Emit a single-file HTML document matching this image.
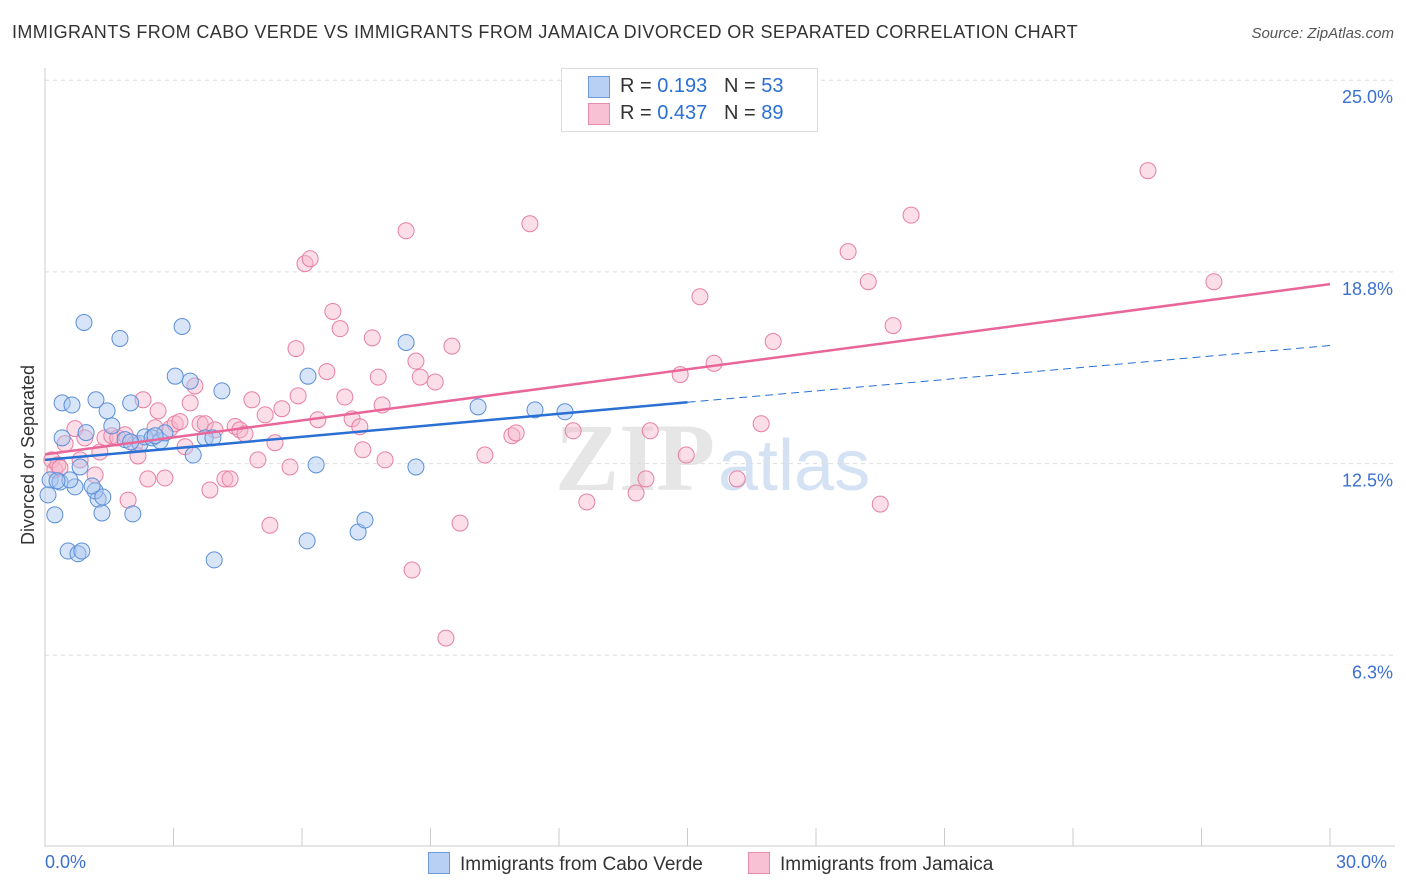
<!DOCTYPE html>
<html><head><meta charset="utf-8"><style>
body{margin:0;background:#fff;font-family:"Liberation Sans",sans-serif}
#c{position:relative;width:1406px;height:892px;overflow:hidden}
.t{position:absolute;white-space:nowrap}
</style></head><body>
<div id="c">
<div class="t" style="left:12px;top:22px;font-size:18px;letter-spacing:0.4px;color:#333">IMMIGRANTS FROM CABO VERDE VS IMMIGRANTS FROM JAMAICA DIVORCED OR SEPARATED CORRELATION CHART</div>
<div class="t" style="right:12px;top:25px;font-size:15px;color:#555;font-style:italic">Source: ZipAtlas.com</div>
<svg id="s" width="1406" height="892" style="position:absolute;left:0;top:0"></svg>
</div>
<script>
const yTicks=[25.0,18.8,12.5,6.3];
const yTickLabels=["25.0%","18.8%","12.5%","6.3%"];
const blueX=[0.12,0.07,0.23,0.4,0.54,0.63,0.7,0.77,0.86,0.91,0.35,0.4,0.58,0.82,0.96,1.19,1.24,1.17,1.1,1.33,1.35,1.45,1.56,1.75,1.87,2.0,2.05,2.22,2.33,2.5,2.69,2.8,3.04,3.2,3.39,3.46,3.74,3.92,3.95,4.13,6.14,6.12,6.33,7.31,7.47,8.43,8.66,10.11,11.44,12.14,0.28,2.0,2.57];
const blueY=[11.97,11.48,10.83,14.48,9.65,14.41,11.74,9.56,9.65,17.1,11.9,13.34,11.97,12.39,13.51,14.58,11.34,11.61,11.77,10.89,11.41,14.22,13.73,16.58,13.28,14.48,10.86,13.15,13.37,13.34,13.24,13.5,15.35,16.97,15.19,12.78,13.34,13.34,9.36,14.87,15.35,9.98,12.46,10.27,10.66,16.45,12.39,14.35,14.25,14.19,11.94,13.21,13.41];
const pinkX=[0.16,0.23,0.3,0.35,0.47,0.7,0.82,0.93,1.17,1.28,1.4,1.56,1.7,1.87,1.94,2.1,2.17,2.29,2.4,2.57,2.64,2.8,2.92,3.04,3.15,3.27,3.39,3.5,3.62,3.74,3.85,3.97,4.2,4.32,4.44,4.55,4.67,4.83,4.97,5.14,5.25,5.37,5.53,5.72,5.86,5.91,6.07,6.19,6.37,6.58,6.72,6.89,7.0,7.17,7.35,7.42,7.64,7.78,7.87,7.94,8.43,8.57,8.66,8.76,9.11,9.36,9.5,9.69,10.27,10.9,11.0,11.32,12.33,12.65,13.8,14.03,14.13,14.83,14.97,15.29,15.62,16.16,16.72,17.0,18.75,19.22,19.5,19.8,20.22,25.75,27.29];
const pinkY=[12.62,12.29,12.46,12.36,13.15,13.64,12.62,13.34,12.13,12.88,13.34,13.41,13.34,13.44,11.31,13.15,12.75,14.58,12.0,13.67,14.22,12.03,13.64,13.8,13.87,13.05,14.48,15.03,13.8,13.8,11.64,13.6,12.0,12.0,13.71,13.6,13.47,14.58,12.62,14.09,10.49,13.18,14.29,12.39,16.25,14.71,19.02,19.18,13.93,15.5,17.46,16.9,14.67,13.96,13.7,12.95,16.6,15.32,14.41,12.62,20.09,9.03,15.84,15.32,15.16,6.81,16.33,10.56,12.78,13.41,13.5,20.32,13.57,11.25,11.54,12.0,13.57,15.4,12.78,17.94,15.77,12.0,13.8,16.48,19.41,18.43,11.18,17.0,20.6,22.05,18.43];
const S="http://www.w3.org/2000/svg";
const svg=document.getElementById('s');
const X0=45,X1=1330,Y0=847,YS=191.7/6.25;
const xs=v=>X0+(X1-X0)*v/30, ys=v=>Y0-v*YS;
function el(t,a,p){const e=document.createElementNS(S,t);for(const k in a)e.setAttribute(k,a[k]);(p||svg).appendChild(e);return e;}
let w=el('text',{x:555,y:490,'font-size':96,fill:'#e6e6e6','font-family':'Liberation Serif','font-weight':'bold'});w.textContent='ZIP';

let w2=el('text',{x:718,y:490,'font-size':72,fill:'#d4e2f4','font-family':'Liberation Sans'});w2.textContent='atlas';

yTicks.forEach((v,i)=>{const y=ys(v===6.3?6.25:v===18.8?18.75:v);
 const g=el('line',{x1:X0,x2:1395,y1:y,y2:y,stroke:'#ddd','stroke-dasharray':'4,4'});
 
 const t=el('text',{x:1393,y:y+23,'text-anchor':'end','font-size':18,fill:'#3c6fd0'});t.textContent=yTickLabels[i];
 });
const ax=el('line',{x1:X0,x2:X0,y1:68,y2:847,stroke:'#ccc'});
const bx=el('line',{x1:X0,x2:1395,y1:846,y2:846,stroke:'#ccc'});
for(let i=0;i<=10;i++){const x=xs(i*3);const t=el('line',{x1:x,x2:x,y1:828,y2:846,stroke:'#ccc'});}
function pts(X,Y,f,s,n){X.forEach((v,i)=>{const c=el('circle',{cx:xs(v),cy:ys(Y[i]),r:8,fill:f,'fill-opacity':0.45,stroke:s,'stroke-width':1});
 });}
pts(pinkX,pinkY,'#f7b6cc','#e87fa3','jamaica-point');
pts(blueX,blueY,'#a9c6ef','#5b8fd8','cabo-verde-point');
let l=el('line',{x1:xs(0),y1:ys(12.62),x2:xs(15),y2:ys(14.5),stroke:'#2a6fd4','stroke-width':2.5});
l=el('line',{x1:xs(15),y1:ys(14.5),x2:xs(30),y2:ys(16.35),stroke:'#2a6fd4','stroke-width':1,'stroke-dasharray':'8,5'});
l=el('line',{x1:xs(0),y1:ys(12.8),x2:xs(30),y2:ys(18.35),stroke:'#e8669a','stroke-width':2.5});
const yt=el('text',{x:34,y:455,'font-size':18,fill:'#333','text-anchor':'middle',transform:'rotate(-90 34 455)'});yt.textContent='Divorced or Separated';

</script>
<div class="t" style="left:45px;top:852px;font-size:18px;color:#3c6fd0">0.0%</div>
<div class="t" style="left:1336px;top:852px;font-size:18px;color:#3c6fd0">30.0%</div>
<div style="position:absolute;left:561px;top:68px;width:255px;height:62px;border:1px solid #ddd;background:#fff;font-size:20px">
 <div class="t" style="left:26px;top:7px;width:20px;height:20px;background:#b8d0f3;border:1px solid #6e9be0"></div>
 <div class="t" style="left:58px;top:6px;color:#333">R = <span style="color:#2a6fd4">0.193</span>&nbsp;&nbsp;&nbsp;N = <span style="color:#2a6fd4">53</span></div>
 <div class="t" style="left:26px;top:34px;width:20px;height:20px;background:#f8c2d4;border:1px solid #e88cab"></div>
 <div class="t" style="left:58px;top:33px;color:#333">R = <span style="color:#2a6fd4">0.437</span>&nbsp;&nbsp;&nbsp;N = <span style="color:#2a6fd4">89</span></div>
</div>
<div style="position:absolute;left:428px;top:852px;font-size:19px;color:#333">
 <div class="t" style="left:0;top:0"><span style="display:inline-block;width:20px;height:20px;background:#b8d0f3;border:1px solid #6e9be0;vertical-align:-4px;margin-right:10px"></span>Immigrants from Cabo Verde</div>
 <div class="t" style="left:320px;top:0"><span style="display:inline-block;width:20px;height:20px;background:#f8c2d4;border:1px solid #e88cab;vertical-align:-4px;margin-right:10px"></span>Immigrants from Jamaica</div>
</div>
</body></html>
